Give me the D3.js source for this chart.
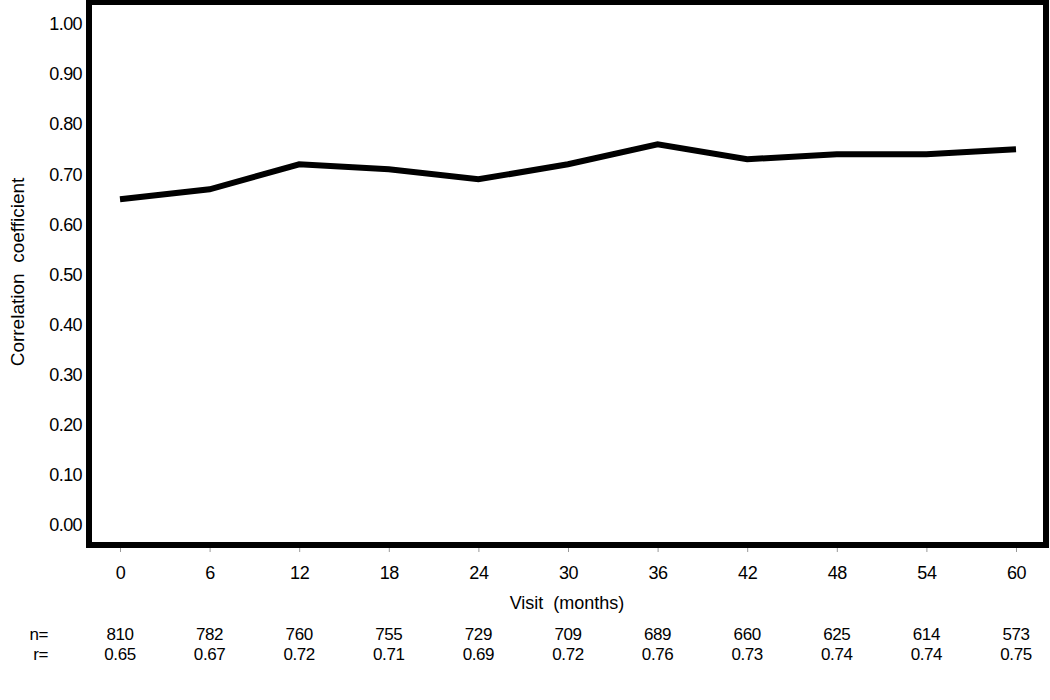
<!DOCTYPE html>
<html><head><meta charset="utf-8">
<script src="https://cdn.jsdelivr.net/npm/d3@7"></script>
<style>body{margin:0;background:#fff}svg{display:block}text{font-family:"Liberation Sans",Arial,sans-serif;white-space:pre}</style>
</head><body><svg id="c" width="1050" height="700"></svg>
<script>
const visits = [0,6,12,18,24,30,36,42,48,54,60];
const corr = [0.65,0.67,0.72,0.71,0.69,0.72,0.76,0.73,0.74,0.74,0.75];
const nCounts = ["810","782","760","755","729","709","689","660","625","614","573"];
const rLabels = ["0.65","0.67","0.72","0.71","0.69","0.72","0.76","0.73","0.74","0.74","0.75"];
const yTicks = [0,0.1,0.2,0.3,0.4,0.5,0.6,0.7,0.8,0.9,1.0];

const svg = d3.select("#c");
const x = d3.scaleLinear().domain([0,60]).range([120,1016]);
const y = d3.scaleLinear().domain([0,1]).range([525,24]);

// frame
svg.append("rect").attr("x",89).attr("y",2).attr("width",957).attr("height",543)
  .attr("fill","none").attr("stroke","#000").attr("stroke-width",6);

// y axis labels
const ya = svg.append("g").attr("transform","translate(86,0)")
  .call(d3.axisLeft(y).tickValues(yTicks).tickFormat(d3.format(".2f")).tickSize(0).tickPadding(4));
ya.select(".domain").remove();
ya.selectAll("text").attr("font-size",18).attr("fill","#000").attr("font-family","Liberation Sans, Arial, sans-serif").style("letter-spacing","-0.6px");

// x axis
const xa = svg.append("g").attr("transform","translate(0,548)")
  .call(d3.axisBottom(x).tickValues(visits).tickFormat(d3.format("d")).tickSize(4).tickPadding(14));
xa.select(".domain").remove();
xa.selectAll("line").attr("stroke","#999");
xa.selectAll("text").attr("font-size",18).attr("fill","#000").attr("font-family","Liberation Sans, Arial, sans-serif").style("letter-spacing","-0.4px");

svg.append("text").attr("x",567).attr("y",609).attr("text-anchor","middle").attr("font-size",18).text("Visit  (months)");
svg.append("text").attr("transform","translate(24,272) rotate(-90)").attr("text-anchor","middle").attr("font-size",19).text("Correlation  coefficient");

// line
svg.append("path").datum(visits.map((v,i)=>[v,corr[i]]))
  .attr("fill","none").attr("stroke","#000").attr("stroke-width",6).attr("stroke-linejoin","miter")
  .attr("d", d3.line().x(d=>x(d[0])).y(d=>y(d[1])));

// n= and r= rows
const rowStyle = s => s.attr("font-size",17).style("letter-spacing","-0.4px");
svg.append("text").attr("x",48).attr("y",640).attr("text-anchor","end").call(rowStyle).text("n=");
svg.append("text").attr("x",48).attr("y",660).attr("text-anchor","end").call(rowStyle).text("r=");
svg.selectAll(".nl").data(nCounts).join("text").attr("class","nl")
  .attr("x",(d,i)=>x(visits[i])).attr("y",640).attr("text-anchor","middle").call(rowStyle).text(d=>d);
svg.selectAll(".rl").data(rLabels).join("text").attr("class","rl")
  .attr("x",(d,i)=>x(visits[i])).attr("y",660).attr("text-anchor","middle").call(rowStyle).text(d=>d);
</script></body></html>
